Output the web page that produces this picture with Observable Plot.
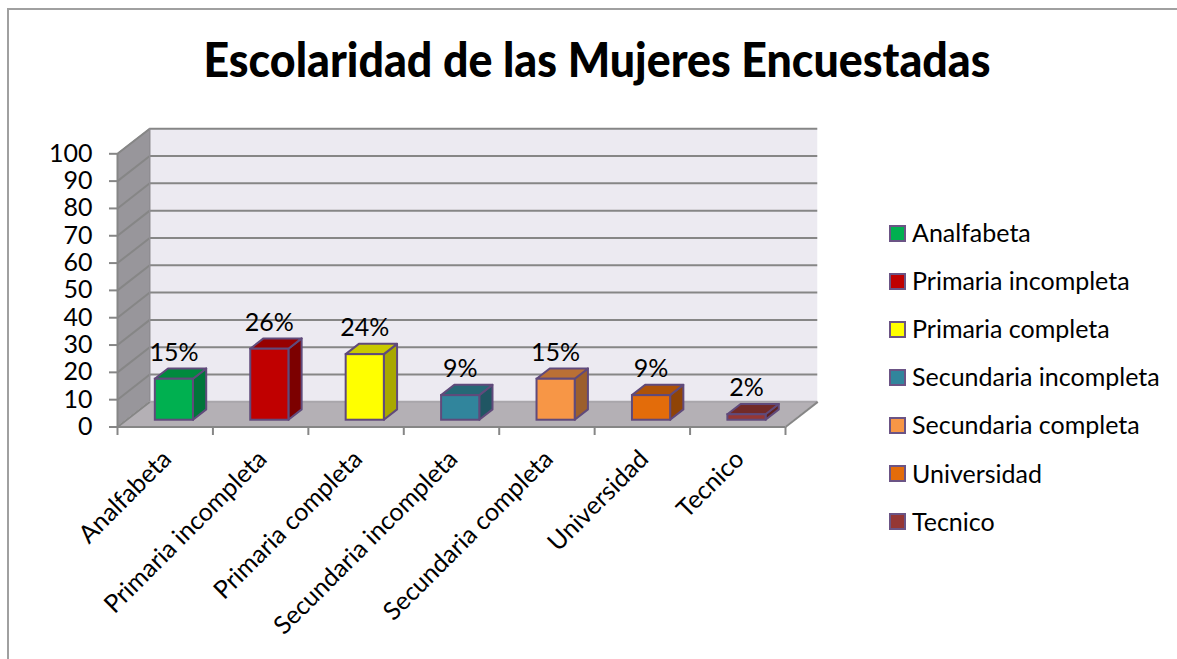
<!DOCTYPE html>
<html><head><meta charset="utf-8">
<script src="https://cdn.jsdelivr.net/npm/d3@7"></script>
<script src="https://cdn.jsdelivr.net/npm/@observablehq/plot@0.6"></script>
<style>
html,body{margin:0;padding:0;background:#fff;width:1177px;height:659px;overflow:hidden;font-family:Lato,sans-serif;color:#000}
#wrap{position:relative;width:1177px;height:659px}
#frame{position:absolute;left:7px;top:8px;width:1170px;height:651px;border-left:2px solid #a0a0a0;border-top:2px solid #a0a0a0;box-sizing:border-box}
#title{position:absolute;left:0;top:29px;width:1194px;text-align:center;font-weight:900;font-size:47px;line-height:60px;white-space:nowrap;transform:scaleX(.951);transform-origin:597px 0}
#chart{position:absolute;left:0;top:0}
#legend{position:absolute;left:889px;top:209px}
.row{position:absolute;left:0;height:48px;display:flex;align-items:center;white-space:nowrap;font-size:25px}
.row .t{position:relative;top:-1px}
.sw{width:13px;height:13px;border:2px solid #6b5485;margin-right:6px;flex:none}
</style></head><body>
<div id="wrap"><div id="frame"></div><div id="chart"></div><div id="title"></div><div id="legend"></div></div>
<script>
const title = "Escolaridad de las Mujeres Encuestadas";
const categories = ["Analfabeta","Primaria incompleta","Primaria completa","Secundaria incompleta","Secundaria completa","Universidad","Tecnico"];
const values = [15,26,24,9,15,9,2];
const labels = ["15%","26%","24%","9%","15%","9%","2%"];
const frontColors = ["#00B050","#C00000","#FFFF00","#31859C","#F79646","#E36C0A","#953735"];
const topColors   = ["#008A3E","#970000","#C9C900","#266876","#BA7035","#AD5208","#722A28"];
const sideColors  = ["#00753A","#7C0000","#A8A800","#205663","#9C5F2D","#8F4407","#5F2321"];
const yTicks = [0,10,20,30,40,50,60,70,80,90,100];
const edge = "#604A7B", gridC = "#868686";

// oblique depth: depth 0..1 shifts a point right and up, in data units
const depthX = 0.338, depthY = 9.2;
const px = (x,d) => x + d*depthX, py = (y,d) => y + d*depthY;
const barL = 0.305, barR = 0.705, d0 = 0.27, d1 = 0.68, nCat = categories.length;

const rows = values.map((v,i)=>({i,v,label:labels[i],cat:categories[i],front:frontColors[i],top:topColors[i],side:sideColors[i]}));
const sideFace = rows.flatMap(r=>[d0,d1].map(d=>({k:r.i,x:px(r.i+barR,d),y1:py(0,d),y2:py(r.v,d),fill:r.side})));
const topFace = rows.flatMap(r=>[d0,d1].map(d=>({k:r.i,y:py(r.v,d),x1:px(r.i+barL,d),x2:px(r.i+barR,d),fill:r.top})));

const plot = Plot.plot({
  width:1177,height:659,marginLeft:117,marginRight:392,marginTop:153,marginBottom:232,
  style:{background:"transparent",overflow:"visible"},
  x:{domain:[0,nCat],range:[117,785],axis:null},
  y:{domain:[0,100],range:[426.5,153.3],axis:null},
  marks:[
    // back wall
    Plot.rect([0],{x1:px(0,1),x2:px(nCat,1),y1:py(0,1),y2:py(100,1),fill:"#ECEAF1"}),
    // side wall
    Plot.areaY([0,1],{x:d=>px(0,d),y1:d=>py(0,d),y2:d=>py(100,d),fill:"#98969B"}),
    // floor
    Plot.areaX([0,1],{y:d=>py(0,d),x1:d=>px(0,d),x2:d=>px(nCat,d),fill:"#B4B0B5"}),
    // gridlines
    Plot.ruleY(yTicks,{y:t=>py(t,1),x1:px(0,1),x2:px(nCat,1),stroke:t=>t===0?"#a9a6ab":gridC,strokeWidth:2}),
    Plot.link(yTicks,{x1:px(0,0),y1:t=>py(t,0),x2:px(0,1),y2:t=>py(t,1),stroke:gridC,strokeWidth:2}),
    Plot.link([0],{x1:px(nCat,0),y1:py(0,0),x2:px(nCat,1),y2:py(0,1),stroke:gridC,strokeWidth:2}),
    Plot.ruleX([0],{x:px(0,1),y1:py(0,1),y2:py(100,1),stroke:"#8f8d92",strokeWidth:1.5}),
    Plot.ruleX([0],{x:px(0,0),y1:0,y2:100,stroke:gridC,strokeWidth:2}),
    Plot.ruleY([0],{y:0,x1:0,x2:nCat,stroke:gridC,strokeWidth:2}),
    // axes
    Plot.axisY({ticks:yTicks,anchor:"left",tickSize:8,tickPadding:17,stroke:gridC,strokeWidth:2,fill:"#000",fontSize:25,fontFamily:"Lato",letterSpacing:-2,label:null,tickFormat:d=>d}),
    Plot.axisX({ticks:d3.range(nCat+1),anchor:"bottom",tickSize:8,stroke:gridC,strokeWidth:2,label:null,tickFormat:()=>""}),
    // bars
    Plot.areaY(sideFace,{x:"x",y1:"y1",y2:"y2",z:"k",fill:"fill",stroke:edge,strokeWidth:2}),
    Plot.areaX(topFace,{y:"y",x1:"x1",x2:"x2",z:"k",fill:"fill",stroke:edge,strokeWidth:2}),
    Plot.rect(rows,{x1:d=>px(d.i+barL,d0),x2:d=>px(d.i+barR,d0),y1:py(0,d0),y2:d=>py(d.v,d0),fill:"front",stroke:edge,strokeWidth:2,inset:0}),
    // value labels
    Plot.text(rows,{x:d=>px(d.i+0.5,d0),y:d=>py(d.v,d1),text:"label",lineAnchor:"bottom",dy:-8,fontSize:25,fontFamily:"Lato",letterSpacing:-1.5,fill:"#000"}),
    // category labels
    Plot.text(rows,{x:d=>d.i+0.5,y:0,text:"cat",rotate:-45,textAnchor:"end",lineAnchor:"middle",dx:2,dy:28,fontSize:25,fontFamily:"Lato",fill:"#000"})
  ]
});
document.getElementById("chart").appendChild(plot);
document.getElementById("title").textContent = title;
const leg = document.getElementById("legend");
categories.forEach((c,i)=>{
  const row=document.createElement("div");row.className="row";row.style.top=(i*48.1)+"px";
  const s=document.createElement("span");s.className="sw";s.style.background=frontColors[i];
  const t=document.createElement("span");t.className="t";t.textContent=c;
  row.append(s,t);leg.append(row);
});
</script></body></html>
